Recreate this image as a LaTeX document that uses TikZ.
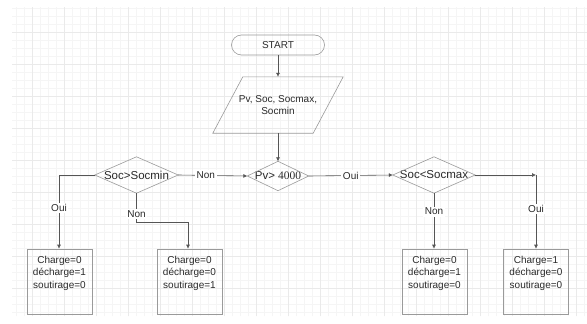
\documentclass[tikz,border=0pt]{standalone}
\usepackage{fontspec}
\setmainfont{Liberation Sans}
\newfontfamily\serifnum{Liberation Serif}
\usetikzlibrary{arrows.meta}
\definecolor{gridminor}{HTML}{F5F5F5}
\definecolor{gridmajor}{HTML}{EAEAEA}
\definecolor{shapeline}{HTML}{9A9A9A}
\definecolor{wireline}{HTML}{555555}
\definecolor{txt}{HTML}{2A2A2A}
\tikzset{
  every node/.style={font=\fontsize{10}{12.5}\selectfont, text=txt},
  holder/.style={inner sep=0pt, draw=none},
  decision/.style={holder, font=\fontsize{11.5}{13}\selectfont},
  outline/.style={draw=shapeline, line width=0.6pt},
  wire/.style={draw=wireline, line width=0.6pt},
  arr/.style={wire, -{Latex[length=4pt,width=4pt]}},
  tag/.style={fill=white, inner sep=1.5pt},
  resultbox/.style={draw=shapeline, line width=0.6pt, minimum width=65pt, minimum height=65pt, inner sep=0pt},
  boxtext/.style={anchor=north, align=center, inner sep=0pt}
}
\begin{document}
\begin{tikzpicture}[x=1pt, y=-1pt]
\useasboundingbox (0,0) rectangle (587,324);
\fill[white] (0,0) rectangle (587,324);
% background grid
\draw[gridminor, line width=0.3pt, step=8pt] (12,7) grid (587,316);
\draw[gridmajor, line width=0.4pt, step=32pt] (12,7) grid (587,316);

% start terminal
\node[draw=shapeline, line width=0.6pt, rounded corners=10pt, minimum width=93pt, minimum height=20pt, inner sep=0pt] (start) at (278,45) {START};

% input parallelogram
\node[holder, minimum width=130pt, minimum height=56pt, align=center] (inp) at (278,105) {Pv, Soc, Socmax,\\Socmin};
\draw[outline] ([xshift=30pt]inp.north west) -- (inp.north east) -- ([xshift=-30pt]inp.south east) -- (inp.south west) -- cycle;

% decisions
\node[decision, minimum width=83pt, minimum height=36pt] (dmin) at (136.5,175) {Soc>Socmin};
\draw[outline] (dmin.west) -- (dmin.north) -- (dmin.east) -- (dmin.south) -- cycle;
\node[decision, minimum width=61pt, minimum height=29pt] (dpv) at (278,176) {Pv>{\serifnum\ 4000}};
\draw[outline] (dpv.west) -- (dpv.north) -- (dpv.east) -- (dpv.south) -- cycle;
\node[decision, minimum width=82pt, minimum height=36pt] (dmax) at (434,175) {Soc<Socmax};
\draw[outline] (dmax.west) -- (dmax.north) -- (dmax.east) -- (dmax.south) -- cycle;

% result boxes
\node[resultbox] (b1) at (59.5,281.5) {};
\node[resultbox] (b2) at (189.5,281.5) {};
\node[resultbox] (b3) at (434.5,281.5) {};
\node[resultbox] (b4) at (536,281.5) {};
\node[boxtext] at ([yshift=-7pt]b1.north) {Charge=0\\décharge=1\\soutirage=0};
\node[boxtext] at ([yshift=-7pt]b2.north) {Charge=0\\décharge=0\\soutirage=1};
\node[boxtext] at ([yshift=-7pt]b3.north) {Charge=0\\décharge=1\\soutirage=0};
\node[boxtext] at ([yshift=-7pt]b4.north) {Charge=1\\décharge=0\\soutirage=0};

% bend points
\coordinate (c1) at (59,175);
\coordinate (c2a) at (136.5,222);
\coordinate (c2b) at (188,222);
\coordinate (c4) at (536,175);

% connectors
\draw[arr] (start.south) -- (inp.north);
\draw[arr] (inp.south) -- (dpv.north);
\draw[arr] (dmin.east) -- node[tag, pos=0.4] {Non} (dpv.west);
\draw[arr] (dpv.east) -- node[tag, pos=0.5] {Oui} (dmax.west);
\draw[arr] (dmin.west) -- (c1) -- node[tag, pos=0.45] {Oui} (c1 |- b1.north);
\draw[arr] (dmin.south) -- node[tag, pos=0.72] {Non} (c2a) -- (c2b) -- (c2b |- b2.north);
\draw[arr] (dmax.south) -- node[tag, pos=0.33] {Non} (dmax.south |- b3.north);
\draw[arr] (dmax.east) -- (c4);
\draw[arr] (c4) -- node[tag, pos=0.46] {Oui} (c4 |- b4.north);
\end{tikzpicture}
\end{document}
